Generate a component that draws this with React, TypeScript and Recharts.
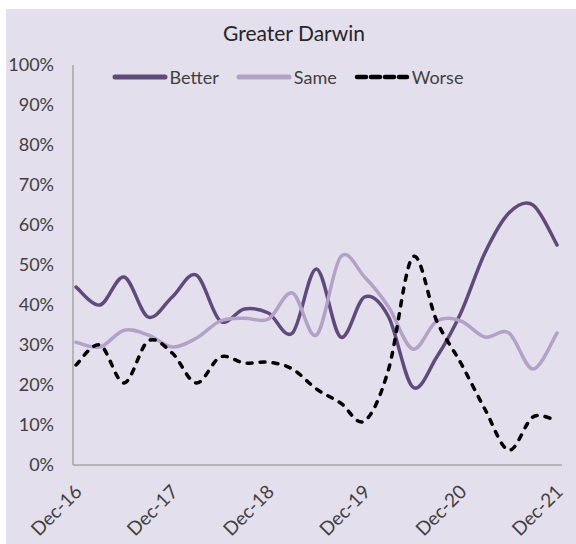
import React from 'react';
import { LineChart, Line, XAxis, YAxis, Legend } from 'recharts';

// quarterly survey, Dec-16 .. Dec-21
const quarters = [
  'Dec-16', 'Mar-17', 'Jun-17', 'Sep-17',
  'Dec-17', 'Mar-18', 'Jun-18', 'Sep-18',
  'Dec-18', 'Mar-19', 'Jun-19', 'Sep-19',
  'Dec-19', 'Mar-20', 'Jun-20', 'Sep-20',
  'Dec-20', 'Mar-21', 'Jun-21', 'Sep-21',
  'Dec-21',
];
const better = [44.5, 40, 47, 37, 42, 47.5, 36, 39, 38, 33, 49, 32, 42, 37, 19.5, 27, 38, 53, 63, 65, 55];
const same = [30.7, 29.5, 33.7, 32.5, 29.5, 31.7, 36, 36.7, 36.5, 43, 32.5, 52, 47, 39.5, 29, 36, 36, 32, 33, 24, 33];
const worse = [25, 30, 20.5, 31, 28, 20.5, 27, 25.5, 25.7, 24, 19, 15.5, 11, 24, 52, 36, 25.5, 14, 3.7, 12, 11];
const yTicks = [0, 10, 20, 30, 40, 50, 60, 70, 80, 90, 100];

const series = [
  { key: 'better', name: 'Better', color: '#604A7B', dash: undefined as string | undefined },
  { key: 'same', name: 'Same', color: '#B3A2C7', dash: undefined as string | undefined },
  { key: 'worse', name: 'Worse', color: '#000000', dash: '5 8' },
];

const data = quarters.map((q, i) => ({ q, better: better[i], same: same[i], worse: worse[i] }));

const FONT = 'Lato, "Open Sans", sans-serif';
const TEXT = '#404040';

// Excel style smoothed line (catmull-rom through the points)
const smooth = (context: any) => {
  let pts: number[][] = [];
  return {
    areaStart() {},
    areaEnd() {},
    lineStart() { pts = []; },
    point(x: number, y: number) { pts.push([+x, +y]); },
    lineEnd() {
      if (!pts.length) return;
      context.moveTo(pts[0][0], pts[0][1]);
      for (let i = 0; i < pts.length - 1; i++) {
        const p0 = pts[Math.max(i - 1, 0)];
        const p1 = pts[i];
        const p2 = pts[i + 1];
        const p3 = pts[Math.min(i + 2, pts.length - 1)];
        context.bezierCurveTo(
          p1[0] + (p2[0] - p0[0]) / 6, p1[1] + (p2[1] - p0[1]) / 6,
          p2[0] - (p3[0] - p1[0]) / 6, p2[1] - (p3[1] - p1[1]) / 6,
          p2[0], p2[1]
        );
      }
    },
  };
};

const XTick = (props: any) => {
  const { x, y, payload } = props;
  const ax = x + 7;
  const ay = y + 28;
  return (
    <text x={ax} y={ay} textAnchor="end" fill={TEXT} fontSize={19} fontFamily={FONT}
      transform={`rotate(-45, ${ax}, ${ay})`}>
      {payload.value}
    </text>
  );
};

const LegendContent = () => (
  <div style={{ display: 'flex', justifyContent: 'center', alignItems: 'center', fontFamily: FONT, fontSize: 18, color: TEXT, paddingLeft: 10 }}>
    {series.map((s) => (
      <div key={s.key} style={{ display: 'flex', alignItems: 'center', marginRight: 17 }}>
        <svg width={56} height={10}>
          <line x1={3} y1={5} x2={53} y2={5} stroke={s.color} strokeWidth={s.dash ? 4.5 : 5}
            strokeLinecap="round" strokeDasharray={s.dash ? '9 5' : undefined} />
        </svg>
        <span style={{ marginLeft: 2 }}>{s.name}</span>
      </div>
    ))}
  </div>
);

export default function App() {
  return (
    <div style={{ position: 'absolute', left: 0, top: 0, width: 576, height: 544, background: '#ffffff' }}>
      <div style={{ position: 'absolute', left: 6, top: 9, width: 570, height: 535, background: '#E4DFEC' }}>
        <div style={{ position: 'absolute', top: 11, left: 0, width: 576, textAlign: 'center', fontFamily: FONT, fontSize: 21, lineHeight: '26px', color: '#262626' }}>
          Greater Darwin
        </div>
        <LineChart width={570} height={535} data={data} margin={{ top: 56, right: 14, bottom: 0, left: 0 }}>
          <XAxis dataKey="q" interval={3} height={79} tickSize={0} tickMargin={0} tick={<XTick />}
            axisLine={{ stroke: '#A6A6A6', strokeWidth: 1.5 }} tickLine={false} padding={{ left: 3, right: 5 }} />
          <YAxis domain={[0, 100]} ticks={yTicks} width={67} tickSize={0} tickMargin={19}
            tickFormatter={(v) => `${v}%`} axisLine={{ stroke: '#A6A6A6', strokeWidth: 1.5 }} tickLine={false}
            tick={{ fill: TEXT, fontSize: 18, fontFamily: FONT }} />
          <Legend verticalAlign="middle" align="center" layout="horizontal" content={<LegendContent />}
            wrapperStyle={{ top: 57, left: 0, width: 570 }} />
          {series.map((s) => (
            <Line key={s.key} dataKey={s.key} name={s.name} type={smooth as any} stroke={s.color}
              strokeWidth={3.5} strokeDasharray={s.dash} strokeLinecap="round" dot={false}
              activeDot={false} isAnimationActive={false} />
          ))}
        </LineChart>
      </div>
    </div>
  );
}
